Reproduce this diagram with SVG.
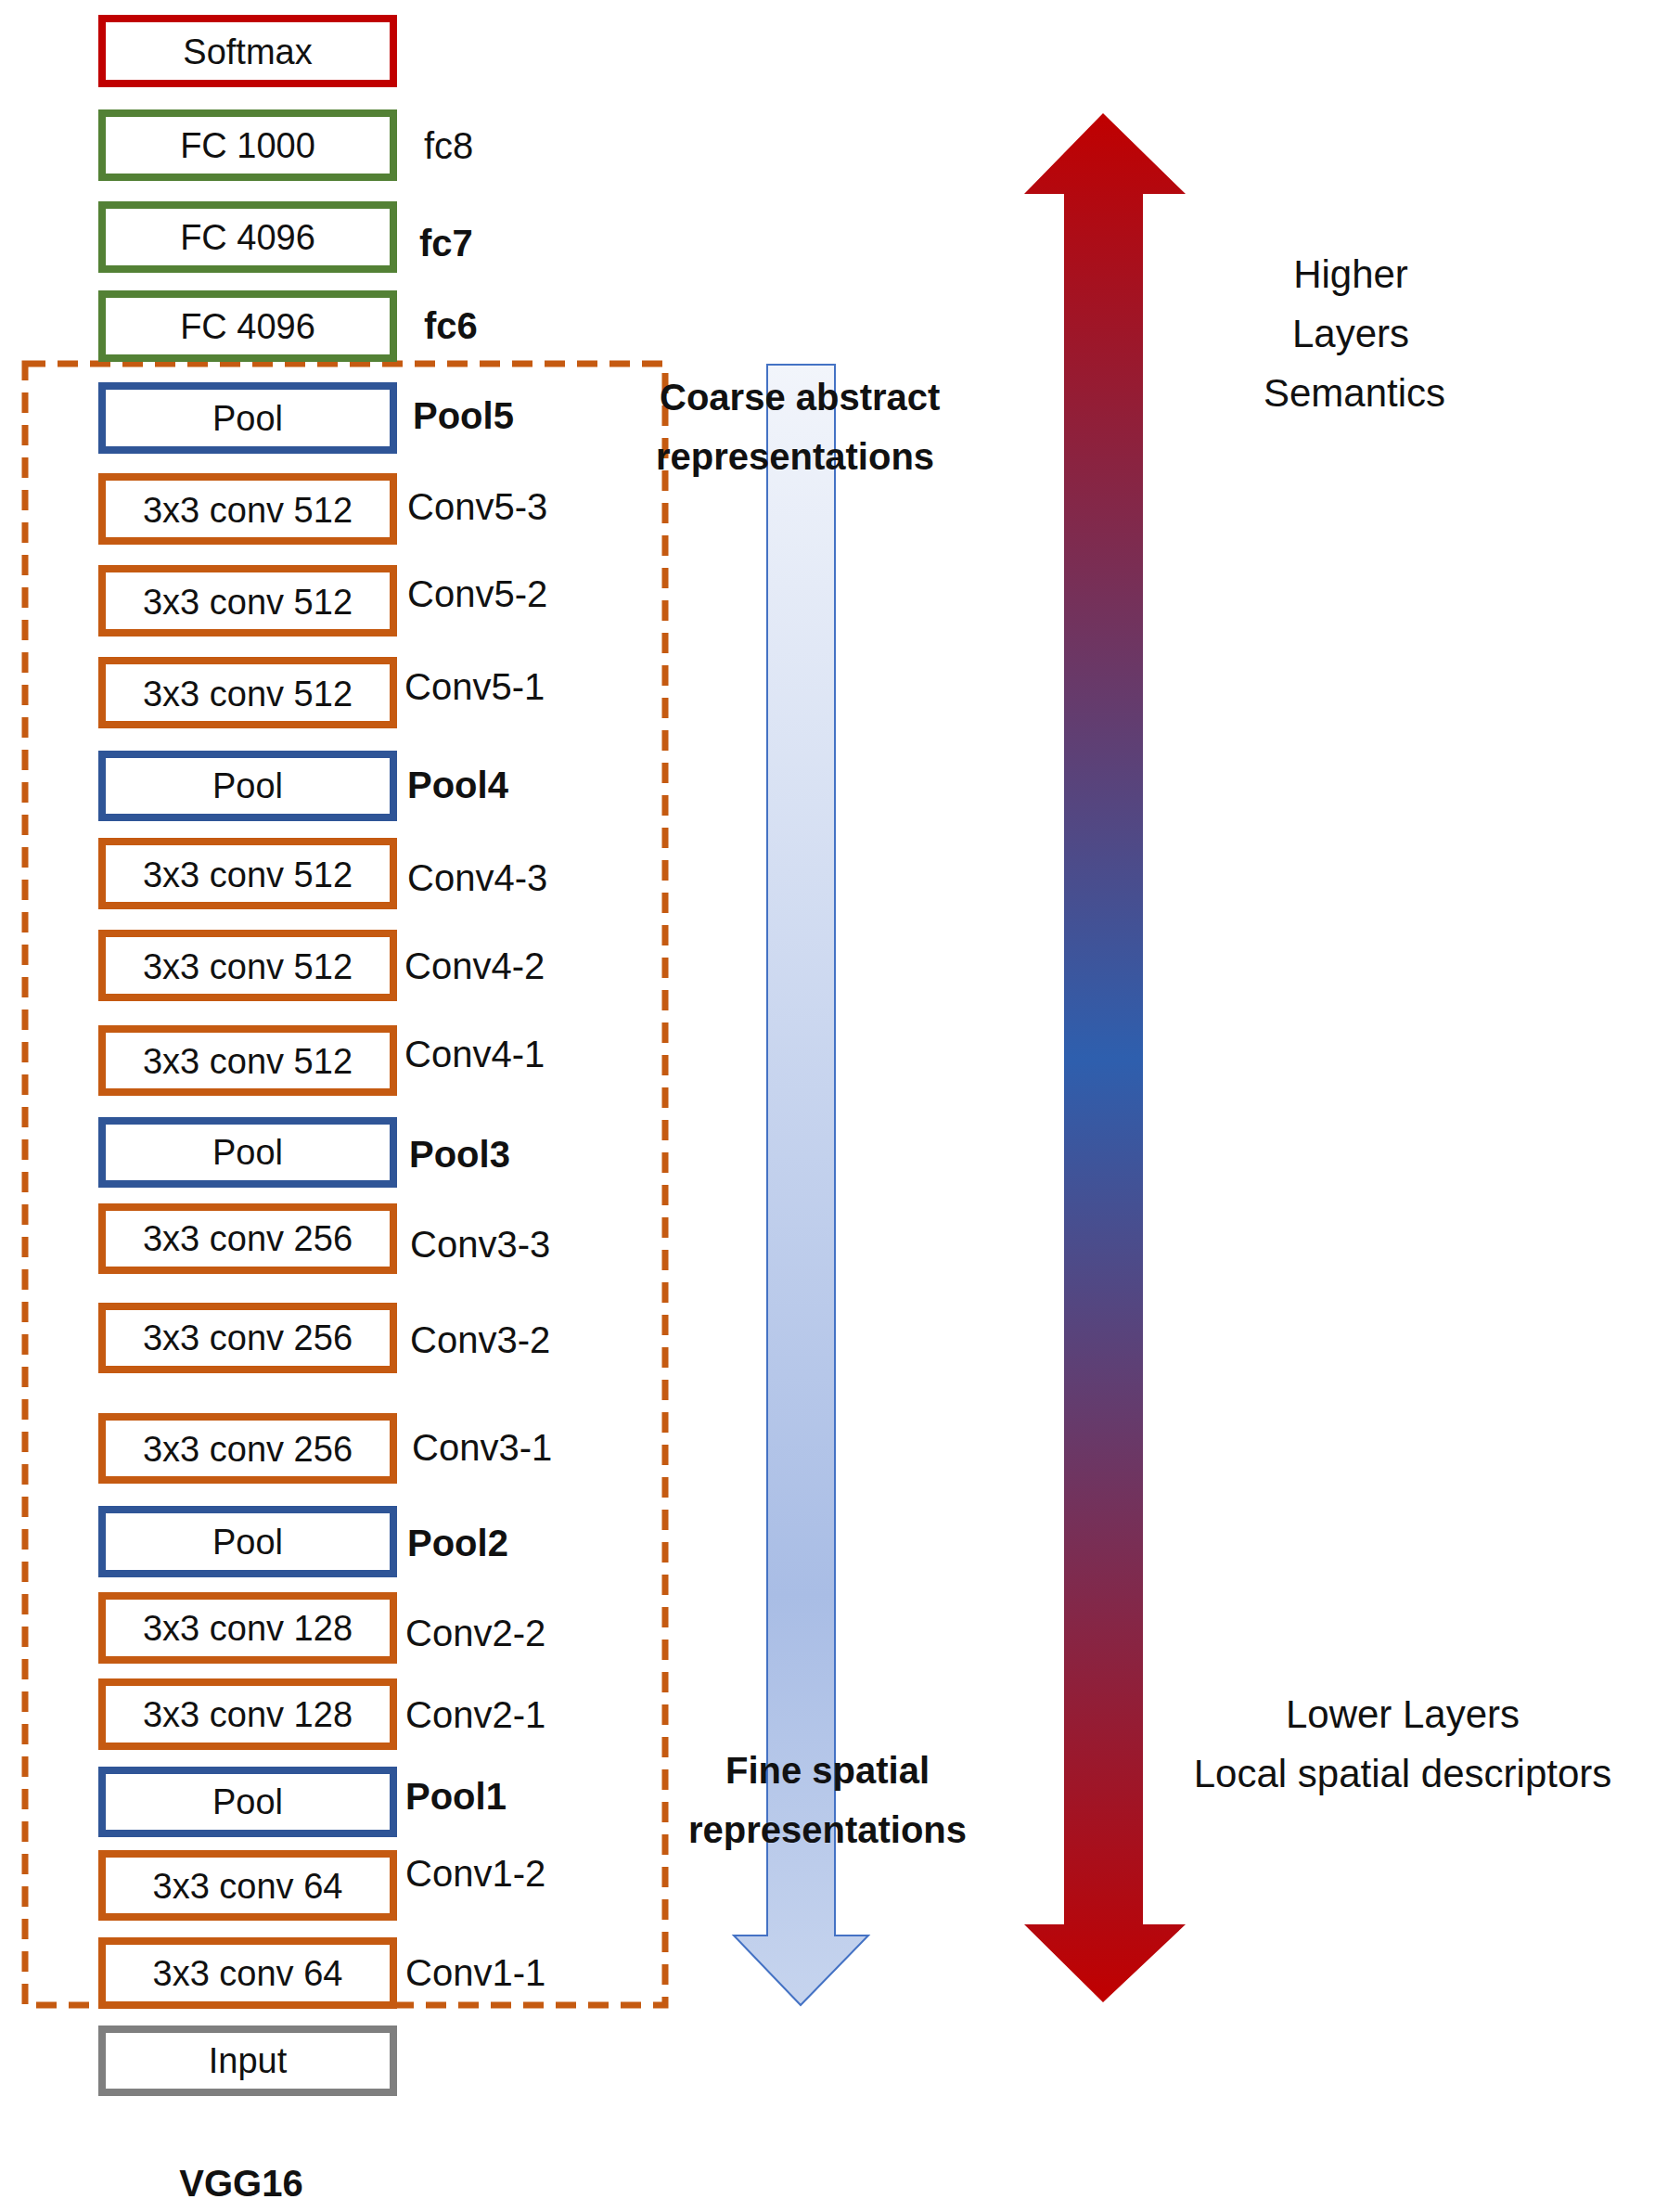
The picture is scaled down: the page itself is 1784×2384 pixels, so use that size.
<svg xmlns="http://www.w3.org/2000/svg" width="1784" height="2384" viewBox="0 0 1784 2384">
<style>
text{font-family:"Liberation Sans",Arial,sans-serif;fill:#111}
.b{fill:#fff;stroke-width:8}
.bt{font-size:38px;text-anchor:middle}
.lb{font-size:40px}
.bold{font-weight:bold}
.r{stroke:#c00000}.g{stroke:#538135}.u{stroke:#2f5597}.o{stroke:#c55a11}.y{stroke:#7f7f7f}
.n{font-size:42px;text-anchor:middle}
</style>
<defs>
<linearGradient id="lb" x1="0" y1="0" x2="0" y2="1"><stop offset="0" stop-color="#f2f5fb"/><stop offset="0.75" stop-color="#a9bde5"/><stop offset="1" stop-color="#c6d4ee"/></linearGradient>
<linearGradient id="rb" x1="0" y1="0" x2="0" y2="1"><stop offset="0" stop-color="#c00000"/><stop offset="0.5" stop-color="#2e5fae"/><stop offset="1" stop-color="#c00000"/></linearGradient>
</defs>
<g id="group"><rect x="27" y="392" width="690" height="1769" fill="none" stroke="#c55a11" stroke-width="7" stroke-dasharray="22,13"/></g>
<g id="connectors">
<path d="M827 393H900V2086H936L863 2161L791 2086H827Z" fill="url(#lb)" stroke="#4472c4" stroke-width="2"/>
<path d="M1189 122L1278 209H1232V2074H1278L1189 2158L1104 2074H1147V209H1104Z" fill="url(#rb)"/>
</g>
<g id="softmax"><rect class="b r" x="110" y="20" width="314" height="70"/><text class="bt" x="267" y="69">Softmax</text></g>
<g id="fc8"><rect class="b g" x="110" y="122" width="314" height="69"/><text class="bt" x="267" y="170">FC 1000</text><text class="lb" x="457" y="171">fc8</text></g>
<g id="fc7"><rect class="b g" x="110" y="221" width="314" height="69"/><text class="bt" x="267" y="269">FC 4096</text><text class="lb bold" x="452" y="276">fc7</text></g>
<g id="fc6"><rect class="b g" x="110" y="317" width="314" height="69"/><text class="bt" x="267" y="365">FC 4096</text><text class="lb bold" x="457" y="365">fc6</text></g>
<g id="pool5"><rect class="b u" x="110" y="416" width="314" height="69"/><text class="bt" x="267" y="464">Pool</text><text class="lb bold" x="445" y="462">Pool5</text></g>
<g id="conv5-3"><rect class="b o" x="110" y="514" width="314" height="69"/><text class="bt" x="267" y="563">3x3 conv 512</text><text class="lb" x="439" y="560">Conv5-3</text></g>
<g id="conv5-2"><rect class="b o" x="110" y="613" width="314" height="69"/><text class="bt" x="267" y="662">3x3 conv 512</text><text class="lb" x="439" y="654">Conv5-2</text></g>
<g id="conv5-1"><rect class="b o" x="110" y="712" width="314" height="69"/><text class="bt" x="267" y="761">3x3 conv 512</text><text class="lb" x="436" y="754">Conv5-1</text></g>
<g id="pool4"><rect class="b u" x="110" y="813" width="314" height="68"/><text class="bt" x="267" y="860">Pool</text><text class="lb bold" x="439" y="860">Pool4</text></g>
<g id="conv4-3"><rect class="b o" x="110" y="907" width="314" height="69"/><text class="bt" x="267" y="956">3x3 conv 512</text><text class="lb" x="439" y="960">Conv4-3</text></g>
<g id="conv4-2"><rect class="b o" x="110" y="1006" width="314" height="69"/><text class="bt" x="267" y="1055">3x3 conv 512</text><text class="lb" x="436" y="1055">Conv4-2</text></g>
<g id="conv4-1"><rect class="b o" x="110" y="1109" width="314" height="68"/><text class="bt" x="267" y="1157">3x3 conv 512</text><text class="lb" x="436" y="1150">Conv4-1</text></g>
<g id="pool3"><rect class="b u" x="110" y="1208" width="314" height="68"/><text class="bt" x="267" y="1255">Pool</text><text class="lb bold" x="441" y="1258">Pool3</text></g>
<g id="conv3-3"><rect class="b o" x="110" y="1301" width="314" height="68"/><text class="bt" x="267" y="1348">3x3 conv 256</text><text class="lb" x="442" y="1355">Conv3-3</text></g>
<g id="conv3-2"><rect class="b o" x="110" y="1408" width="314" height="68"/><text class="bt" x="267" y="1455">3x3 conv 256</text><text class="lb" x="442" y="1458">Conv3-2</text></g>
<g id="conv3-1"><rect class="b o" x="110" y="1527" width="314" height="68"/><text class="bt" x="267" y="1575">3x3 conv 256</text><text class="lb" x="444" y="1574">Conv3-1</text></g>
<g id="pool2"><rect class="b u" x="110" y="1627" width="314" height="69"/><text class="bt" x="267" y="1675">Pool</text><text class="lb bold" x="439" y="1677">Pool2</text></g>
<g id="conv2-2"><rect class="b o" x="110" y="1720" width="314" height="69"/><text class="bt" x="267" y="1768">3x3 conv 128</text><text class="lb" x="437" y="1774">Conv2-2</text></g>
<g id="conv2-1"><rect class="b o" x="110" y="1813" width="314" height="69"/><text class="bt" x="267" y="1861">3x3 conv 128</text><text class="lb" x="437" y="1862">Conv2-1</text></g>
<g id="pool1"><rect class="b u" x="110" y="1908" width="314" height="68"/><text class="bt" x="267" y="1955">Pool</text><text class="lb bold" x="437" y="1950">Pool1</text></g>
<g id="conv1-2"><rect class="b o" x="110" y="1998" width="314" height="68"/><text class="bt" x="267" y="2046">3x3 conv 64</text><text class="lb" x="437" y="2033">Conv1-2</text></g>
<g id="conv1-1"><rect class="b o" x="110" y="2092" width="314" height="69"/><text class="bt" x="267" y="2140">3x3 conv 64</text><text class="lb" x="437" y="2140">Conv1-1</text></g>
<g id="input"><rect class="b y" x="110" y="2187" width="314" height="68"/><text class="bt" x="267" y="2234">Input</text></g>
<text class="lb bold" x="260" y="2367" text-anchor="middle">VGG16</text>
<text class="lb bold" x="711" y="442">Coarse abstract</text>
<text class="lb bold" x="707" y="506">representations</text>
<text class="lb bold" x="892" y="1922" text-anchor="middle">Fine  spatial</text>
<text class="lb bold" x="892" y="1986" text-anchor="middle">representations</text>
<text class="n" x="1456" y="310">Higher</text>
<text class="n" x="1456" y="374">Layers</text>
<text class="n" x="1460" y="438">Semantics</text>
<text class="n" x="1512" y="1862">Lower Layers</text>
<text class="n" x="1512" y="1926">Local spatial descriptors</text>
</svg>
